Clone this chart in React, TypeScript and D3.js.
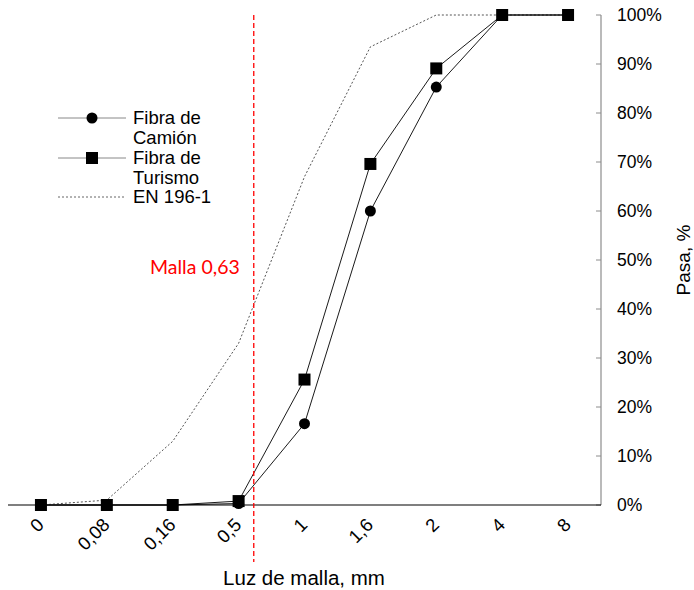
import React from "react";
import * as d3 from "d3";

const categories = ["0", "0,08", "0,16", "0,5", "1", "1,6", "2", "4", "8"];
const camion = [0, 0, 0, 0.3, 16.6, 60.0, 85.3, 100, 100];
const turismo = [0, 0, 0, 0.8, 25.6, 69.6, 89.1, 100, 100];
const en196 = [0, 1, 13, 33, 67, 93.5, 100, 100, 100];
const yTicks = [0, 10, 20, 30, 40, 50, 60, 70, 80, 90, 100];
const mallaPos = 3.23; // position between "0,5" and "1" in category units

export default function App() {
  const W = 694, H = 590;
  const x = d3.scaleBand<string>().domain(categories).range([0, 593]).paddingInner(0).paddingOuter(0);
  const xc = (i: number) => (x(categories[0]) as number) + x.bandwidth() * (i + 0.5);
  const y = d3.scaleLinear().domain([0, 100]).range([497, 7]);
  const line = d3.line<number>().x((_, i) => xc(i)).y((d) => y(d));
  const right = 593;
  const ff = "'Liberation Sans', Arial, sans-serif";
  return (
    <svg width={W} height={H} style={{ position: "absolute", left: 0, top: 0 }}>
      <g transform="translate(8,8)">
        {/* right axis */}
        <line x1={right} x2={right} y1={y(100)} y2={y(0)} stroke="#8c8c8c" strokeWidth={1.2} />
        {yTicks.map((t) => (
          <g key={t}>
            <line x1={right - 5} x2={right} y1={y(t)} y2={y(t)} stroke="#8c8c8c" />
            <text x={right + 16} y={y(t)} dy="0.35em" fontFamily={ff} fontSize={17.5} fill="#000">
              {t}%
            </text>
          </g>
        ))}
        <text
          transform={`translate(682,${y(50)}) rotate(-90)`}
          textAnchor="middle"
          fontFamily={ff}
          fontSize={19}
          fill="#000"
        >
          Pasa, %
        </text>
        {/* x axis */}
        <line x1={0} x2={right} y1={y(0)} y2={y(0)} stroke="#000" strokeWidth={1.2} />
        {categories.map((c, i) => (
          <text
            key={c}
            transform={`translate(${xc(i) + 4},${y(0) + 21}) rotate(-45)`}
            textAnchor="end"
            fontFamily={ff}
            fontSize={18.5}
            fill="#000"
          >
            {c}
          </text>
        ))}
        <text x={296} y={577} textAnchor="middle" fontFamily={ff} fontSize={20.5} fill="#000">
          Luz de malla, mm
        </text>
        {/* EN 196-1 */}
        <path d={line(en196) || ""} fill="none" stroke="#555" strokeWidth={1} strokeDasharray="2,2" />
        {/* series */}
        <path d={line(camion) || ""} fill="none" stroke="#000" strokeWidth={0.9} />
        <path d={line(turismo) || ""} fill="none" stroke="#000" strokeWidth={0.9} />
        {camion.map((v, i) => (
          <circle key={"c" + i} cx={xc(i)} cy={y(v)} r={5.5} fill="#000" />
        ))}
        {turismo.map((v, i) => (
          <rect key={"t" + i} x={xc(i) - 6} y={y(v) - 6} width={12} height={12} fill="#000" />
        ))}
        {/* malla line */}
        <line
          x1={xc(mallaPos)}
          x2={xc(mallaPos)}
          y1={y(100)}
          y2={554}
          stroke="#ff0000"
          strokeWidth={1.3}
          strokeDasharray="5,3"
        />
        <text x={xc(mallaPos) - 14} y={266} textAnchor="end" fontFamily="Lato, 'Open Sans', sans-serif" fontSize={19.5} fill="#ff0000">
          Malla 0,63
        </text>
        {/* legend */}
        <g fontFamily={ff} fontSize={18.5} fill="#000">
          <line x1={50} x2={118} y1={110} y2={110} stroke="#888" />
          <circle cx={84} cy={110} r={5.5} fill="#000" />
          <text x={125} y={110} dy="0.35em">Fibra de</text>
          <text x={125} y={130} dy="0.35em">Camión</text>
          <line x1={50} x2={118} y1={150} y2={150} stroke="#888" />
          <rect x={78} y={144} width={12} height={12} fill="#000" />
          <text x={125} y={150} dy="0.35em">Fibra de</text>
          <text x={125} y={170} dy="0.35em">Turismo</text>
          <line x1={50} x2={118} y1={189} y2={189} stroke="#666" strokeDasharray="2,2" />
          <text x={125} y={189} dy="0.35em">EN 196-1</text>
        </g>
      </g>
    </svg>
  );
}
